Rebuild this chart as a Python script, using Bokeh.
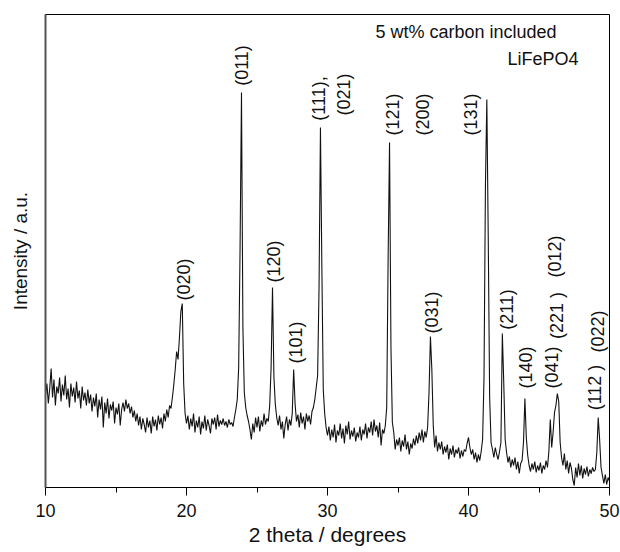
import numpy as np
from bokeh.plotting import figure
from bokeh.models import Range1d, FixedTicker, Label, ColumnDataSource
from bokeh.embed import file_html
from bokeh.resources import INLINE
from bokeh.core.properties import value

# ---- data: XRD pattern, 2theta 10.0 .. 50.0 step 0.1, intensity (a.u.) ----
two_theta_start = 10.0
two_theta_step = 0.1

int_10_15 = [92, 104, 84, 99, 119, 90, 108, 82, 101, 94,
             110, 86, 103, 92, 112, 88, 99, 80, 104, 91,
             100, 85, 106, 89, 97, 79, 101, 87, 95, 82,
             98, 84, 93, 76, 90, 81, 94, 70, 88, 78,
             91, 60, 85, 74, 89, 69, 83, 77, 86, 64]
int_15_20 = [80, 73, 84, 62, 78, 85, 76, 88, 79, 84,
             74, 81, 70, 77, 66, 74, 62, 71, 58, 69,
             63, 55, 70, 60, 67, 54, 71, 61, 68, 57,
             72, 63, 70, 59, 74, 66, 78, 70, 82, 79,
             90, 103, 118, 136, 128, 150, 176, 184, 104, 74]
int_20_25 = [64, 72, 58, 69, 61, 74, 55, 67, 60, 71,
             53, 66, 59, 72, 57, 68, 62, 54, 69, 63,
             70, 58, 73, 61, 67, 63, 69, 62, 66, 60,
             68, 63, 65, 61, 70, 78, 88, 120, 240, 395,
             160, 95, 80, 72, 66, 58, 48, 64, 55, 70]
int_25_30 = [60, 71, 56, 67, 61, 74, 63, 69, 66, 82,
             120, 200, 110, 83, 70, 62, 72, 58, 66, 49,
             63, 71, 57, 68, 62, 74, 118, 84, 66, 73,
             60, 75, 64, 71, 58, 74, 66, 72, 63, 76,
             80, 88, 100, 112, 200, 360, 220, 98, 74, 60]
int_30_35 = [52, 61, 47, 58, 50, 63, 45, 57, 52, 64,
             49, 59, 44, 62, 53, 66, 48, 57, 51, 60,
             46, 55, 50, 61, 47, 58, 53, 64, 49, 60,
             55, 66, 52, 68, 56, 62, 50, 65, 42, 58,
             54, 62, 80, 230, 345, 140, 65, 55, 38, 48]
int_35_40 = [42, 50, 36, 47, 41, 53, 38, 46, 33, 44,
             39, 49, 42, 52, 44, 55, 47, 58, 45, 56,
             50, 60, 95, 151, 118, 62, 40, 52, 36, 45,
             38, 46, 33, 41, 35, 43, 28, 39, 33, 42,
             30, 38, 34, 40, 29, 37, 31, 38, 36, 44]
int_40_45 = [50, 40, 33, 38, 28, 35, 25, 33, 27, 36,
             48, 110, 300, 388, 250, 90, 45, 38, 30, 40,
             33, 28, 36, 45, 154, 105, 48, 35, 25, 31,
             20, 28, 22, 30, 18, 26, 14, 24, 27, 45,
             89, 50, 32, 22, 16, 24, 18, 26, 15, 22]
int_45_50 = [17, 25, 14, 22, 18, 27, 20, 36, 68, 40,
             55, 75, 82, 94, 86, 45, 30, 22, 34, 18,
             27, 14, 25, 19, 8, 2, 20, 10, 24, 12,
             22, 9, 19, 13, 21, 11, 18, 14, 20, 16,
             18, 35, 70, 48, 20, 12, 4, 13, 3, 10, 6]

intensity = (int_10_15 + int_15_20 + int_20_25 + int_25_30 +
             int_30_35 + int_35_40 + int_40_45 + int_45_50)
two_theta = np.round(two_theta_start + two_theta_step * np.arange(len(intensity)), 2)

# peak labels (Miller indices) and their anchor positions in data units
peak_labels = ["(020)", "(011)", "(120)", "(101)", "(111),", "(021)",
               "(121)", "(200)", "(131)", "(031)", "(211)", "(140)",
               "(041)", "(221 )", "(012)", "(112 )", "(022)"]
label_theta = [19.79, 23.95, 26.24, 27.80, 29.40, 31.15,
               34.65, 36.75, 40.20, 37.38, 42.70, 44.11,
               45.89, 46.31, 46.17, 49.00, 49.15]
label_int = [208, 422, 226, 145, 389, 393,
             373, 373, 373, 175, 178, 120,
             120, 172, 231, 100, 156]

x_title = "2 theta / degrees"
y_title = "Intensity / a.u."

FONT = "Liberation Sans"
INK = "#111111"

p = figure(width=620, height=552, output_backend="svg", toolbar_location=None,
           x_range=Range1d(10, 50), y_range=Range1d(0, 473),
           min_border_left=45, min_border_right=11, min_border_top=14,
           min_border_bottom=65)

p.line(two_theta, intensity, line_color=INK, line_width=1.1)

src = ColumnDataSource(dict(x=label_theta, y=label_int, t=peak_labels))
p.text(x="x", y="y", text="t", source=src, angle=np.pi / 2,
       text_align="center", text_baseline="middle",
       text_font=value(FONT), text_font_size="18px", text_color=INK)

p.add_layout(Label(x=33.40, y=456, text="5 wt% carbon included",
                   text_align="left", text_baseline="middle",
                   text_font=FONT, text_font_size="18px", text_color=INK))
p.add_layout(Label(x=42.77, y=429, text="LiFePO4",
                   text_align="left", text_baseline="middle",
                   text_font=FONT, text_font_size="18px", text_color=INK))

p.xgrid.visible = False
p.ygrid.visible = False
p.outline_line_color = "black"
p.outline_line_width = 1

xa = p.xaxis[0]
xa.ticker = FixedTicker(ticks=[10, 20, 30, 40, 50], minor_ticks=[15, 25, 35, 45])
xa.major_tick_in = 0
xa.major_tick_out = 8
xa.minor_tick_in = 0
xa.minor_tick_out = 5
xa.major_label_standoff = 8
xa.major_label_text_font = FONT
xa.major_label_text_font_size = "18px"
xa.major_label_text_color = INK
xa.axis_label = x_title
xa.axis_label_text_font = FONT
xa.axis_label_text_font_size = "21px"
xa.axis_label_text_font_style = "normal"
xa.axis_label_text_color = INK
xa.axis_label_standoff = 3
xa.axis_line_color = "black"
xa.major_tick_line_color = "black"
xa.minor_tick_line_color = "black"

ya = p.yaxis[0]
ya.ticker = FixedTicker(ticks=[])
ya.major_tick_out = 0
ya.major_tick_in = 0
ya.minor_tick_out = 0
ya.minor_tick_in = 0
ya.major_label_standoff = 0
ya.axis_label = y_title
ya.axis_label_text_font = FONT
ya.axis_label_text_font_size = "19px"
ya.axis_label_text_font_style = "normal"
ya.axis_label_text_color = INK
ya.axis_label_standoff = 15
ya.axis_line_color = "#555555"
ya.axis_line_width = 2

open("out.html", "w").write(file_html(p, INLINE))
